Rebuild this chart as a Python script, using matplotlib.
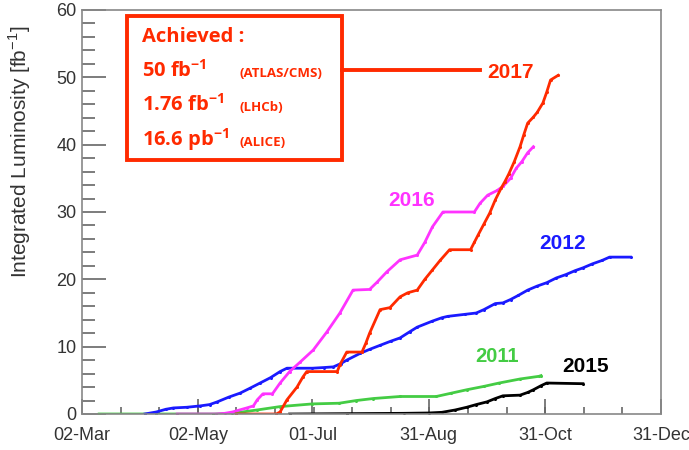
import matplotlib.pyplot as plt
import numpy as np

plt.rcParams['font.family'] = 'Liberation Sans'
plt.rcParams['mathtext.fontset'] = 'custom'
plt.rcParams['mathtext.rm'] = 'Liberation Sans'
plt.rcParams['mathtext.bf'] = 'Open Sans:bold'

# day of year / integrated luminosity [fb^-1]
days_2011 = [70, 100, 130, 140, 153, 165, 182, 196, 205, 214, 228, 247, 255, 263, 272, 280,
             291, 301, 302]
lumi_2011 = [0, 0, 0, 0.1, 0.6, 1.1, 1.5, 1.6, 2.0, 2.3, 2.6, 2.6, 3.1, 3.6, 4.1, 4.6,
             5.2, 5.6, 5.7]

days_2012 = [94, 100, 105, 109, 116, 123, 128, 132, 138, 144, 149, 154.5, 160, 165, 168.6, 182,
             188, 193, 197, 200, 207, 212, 217.5, 223, 228, 233, 237, 245, 250, 253, 262, 268,
             272, 278, 282, 286, 290, 295, 300, 305, 310, 315, 320, 324, 329, 334, 338, 349]
lumi_2012 = [0, 0.3, 0.7, 0.9, 1.0, 1.2, 1.4, 1.8, 2.5, 3.1, 3.8, 4.6, 5.4, 6.3, 6.8, 6.8,
             6.9, 7.0, 7.5, 8.0, 9.0, 9.6, 10.2, 10.8, 11.3, 12.2, 12.9, 13.8, 14.3, 14.5, 14.8, 15.0,
             15.5, 16.4, 16.5, 17.0, 17.6, 18.4, 19.0, 19.5, 20.2, 20.7, 21.3, 21.7, 22.3, 22.8, 23.3, 23.3]

days_2015 = [170, 200, 230, 243, 250, 257, 263, 268, 273.6, 278, 282, 291, 295, 298, 302, 305,
             324]
lumi_2015 = [0, 0.05, 0.1, 0.15, 0.25, 0.6, 1.0, 1.4, 1.8, 2.3, 2.7, 2.8, 3.2, 3.6, 4.2, 4.6,
             4.5]

days_2016 = [111, 131.6, 136, 140, 147.5, 151, 153, 156, 161, 165, 170, 175.5, 182.4, 189.6, 196.4, 203.3,
             212, 216, 221, 228, 237, 241, 245, 250.5, 267, 270, 274, 279, 282, 286, 289, 292,
             295, 298]
lumi_2016 = [0, 0, 0.1, 0.3, 0.9, 1.2, 2.1, 3.0, 3.0, 4.6, 6.3, 7.7, 9.5, 12.2, 15.0, 18.4,
             18.5, 19.6, 21.1, 22.9, 23.6, 25.5, 27.8, 30.0, 30.0, 31.3, 32.5, 33.2, 33.8, 35.0, 36.5, 37.5,
             38.8, 39.7]

days_2017 = [142, 163, 165, 168.6, 173.9, 177, 179, 195, 196.4, 200, 208, 210, 212, 217.5, 222.7, 228,
             232, 237, 241, 245, 249, 254, 265, 267, 269, 272, 275, 278, 281, 283, 285, 288,
             291, 293, 295, 298, 300, 303, 305, 307, 311]
lumi_2017 = [0, 0, 0.3, 2.1, 4.0, 5.5, 6.3, 6.3, 7.3, 9.2, 9.2, 10.5, 12.0, 15.5, 15.8, 17.4,
             18.0, 18.4, 20.0, 21.4, 22.8, 24.4, 24.4, 25.5, 26.6, 28.2, 29.8, 31.8, 33.5, 34.5, 35.6, 37.5,
             39.7, 41.5, 43.2, 44.1, 44.8, 46.2, 47.8, 49.6, 50.3]

tick_days = [61, 122, 182, 243, 304, 365]
tick_labels = ['02-Mar', '02-May', '01-Jul', '31-Aug', '31-Oct', '31-Dec']

RED = '#ff2a00'
MAGENTA = '#ff33ff'
BLUE = '#1a1aff'
GREEN = '#44cc44'
GREY = '#333333'

fig = plt.figure(figsize=(6.89, 4.5), dpi=100)
ax = fig.add_axes([82 / 689, 36 / 450, 579 / 689, 404 / 450])

series = [(days_2011, lumi_2011, GREEN),
          (days_2015, lumi_2015, 'black'),
          (days_2012, lumi_2012, BLUE),
          (days_2016, lumi_2016, MAGENTA),
          (days_2017, lumi_2017, RED)]
for d, l, c in series:
    ax.plot(d, l, '-', color=c, lw=2, marker='o', ms=2.2, mew=0)

ax.set_xlim(61, 365)
ax.set_ylim(0, 60)
ax.set_xticks(tick_days)
ax.set_xticklabels(tick_labels)
ax.set_xticks(np.linspace(61, 365, 16), minor=True)
ax.set_yticks(np.arange(0, 61, 10))
ax.set_yticks(np.arange(0, 61, 2), minor=True)

ax.tick_params(axis='both', which='both', direction='in', colors='#666666',
               labelcolor=GREY, labelsize=13, width=1.2)
ax.tick_params(axis='x', which='major', length=11, pad=9)
ax.tick_params(axis='x', which='minor', length=5)
ax.tick_params(axis='y', which='major', length=17, pad=4)
ax.tick_params(axis='y', which='minor', length=9)
ax.tick_params(top=False, right=False)
for s in ax.spines.values():
    s.set_color('#888888')
    s.set_linewidth(1.2)

ax.set_ylabel(r'Integrated Luminosity [fb$^{-1}$]', fontsize=15, color=GREY)
ax.yaxis.set_label_coords(-0.084, 0.648)

# Red "Achieved" box with connector to the 2017 label
def fx(px):
    return px / 689

def fy(py):
    return 1 - py / 450

box = plt.Rectangle((fx(127), fy(160)), fx(342) - fx(127), fy(16) - fy(160),
                    transform=fig.transFigure, fill=False, ec=RED, lw=2.8)
fig.patches.append(box)
fig.add_artist(plt.Line2D([fx(342), fx(480)], [fy(70), fy(70)], color=RED, lw=2.8))

bf = dict(color=RED, fontweight='bold', family='Open Sans', va='baseline', ha='left')
fig.text(fx(142), fy(42), 'Achieved :', fontsize=14.5, **bf)
rows = [('50 fb', '(ATLAS/CMS)', 77), ('1.76 fb', '(LHCb)', 111), ('16.6 pb', '(ALICE)', 146)]
for main, who, py in rows:
    fig.text(fx(142), fy(py), main + r'$^{\mathbf{-1}}$', fontsize=14.5, **bf)
    fig.text(fx(240), fy(py), who, fontsize=9.5, **bf)

fig.text(fx(487), fy(72), '2017', fontsize=15, color=RED, fontweight='bold', va='center')
fig.text(fx(388), fy(200), '2016', fontsize=15, color=MAGENTA, fontweight='bold', va='center')
fig.text(fx(539), fy(243), '2012', fontsize=15, color=BLUE, fontweight='bold', va='center')
fig.text(fx(475), fy(357), '2011', fontsize=14.5, color=GREEN, fontweight='bold', va='center')
fig.text(fx(562), fy(366), '2015', fontsize=15, color='black', fontweight='bold', va='center')

fig.savefig('out.png', dpi=100)
